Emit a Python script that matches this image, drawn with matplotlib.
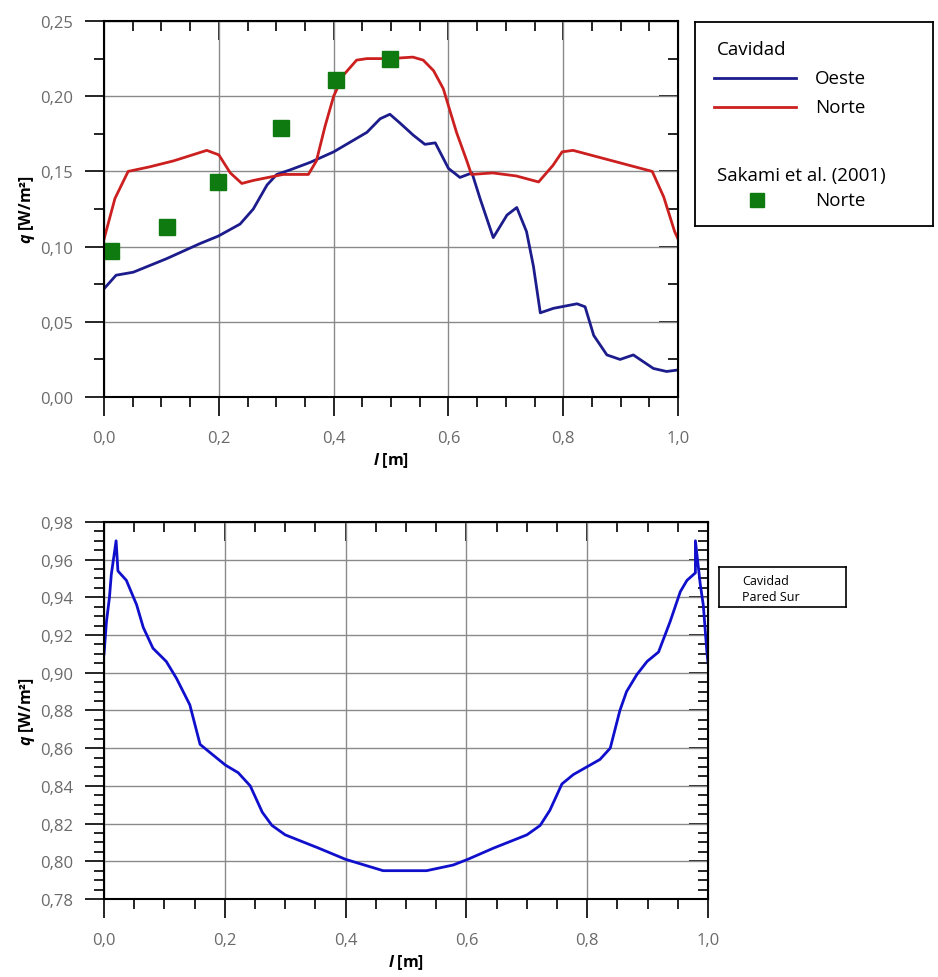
import matplotlib
matplotlib.use("Agg")
import matplotlib.pyplot as plt
from matplotlib.ticker import MultipleLocator, FuncFormatter
from matplotlib.lines import Line2D

plt.rcParams['font.family'] = ['Open Sans', 'DejaVu Sans']
plt.rcParams['mathtext.fontset'] = 'custom'
plt.rcParams['mathtext.it'] = 'Open Sans:italic:bold'
plt.rcParams['mathtext.rm'] = 'Open Sans:bold'

# Top chart: heat flux along the walls
oeste_x = [0, 0.021, 0.051, 0.109, 0.167, 0.199, 0.237, 0.26, 0.284, 0.301, 0.324, 0.359, 0.4,
           0.458, 0.481, 0.498, 0.516, 0.539, 0.559, 0.577, 0.600, 0.620, 0.641, 0.655, 0.678,
           0.702, 0.719, 0.736, 0.748, 0.760, 0.783, 0.824, 0.838, 0.853, 0.876, 0.899, 0.922,
           0.957, 0.980, 1.0]
oeste_y = [0.072, 0.081, 0.083, 0.092, 0.102, 0.107, 0.115, 0.125, 0.141, 0.148, 0.151, 0.156, 0.163,
           0.176, 0.185, 0.188, 0.182, 0.174, 0.168, 0.169, 0.152, 0.146, 0.149, 0.132, 0.106,
           0.121, 0.126, 0.110, 0.087, 0.056, 0.059, 0.062, 0.060, 0.041, 0.028, 0.025, 0.028,
           0.019, 0.017, 0.018]

norte_x = [0, 0.019, 0.042, 0.079, 0.121, 0.179, 0.2, 0.22, 0.24, 0.26, 0.312, 0.356, 0.37, 0.385,
           0.4, 0.417, 0.44, 0.458, 0.498, 0.538, 0.556, 0.574, 0.591, 0.614, 0.632, 0.64, 0.677,
           0.718, 0.757, 0.782, 0.798, 0.817, 0.886, 0.955, 0.975, 0.994, 1.0]
norte_y = [0.105, 0.132, 0.150, 0.153, 0.157, 0.164, 0.161, 0.149, 0.142, 0.144, 0.148, 0.148, 0.157,
           0.180, 0.200, 0.214, 0.224, 0.225, 0.225, 0.226, 0.224, 0.217, 0.205, 0.176, 0.157,
           0.148, 0.149, 0.147, 0.143, 0.154, 0.163, 0.164, 0.157, 0.150, 0.133, 0.110, 0.105]

sakami_x = [0.013, 0.109, 0.199, 0.308, 0.404, 0.498]
sakami_y = [0.097, 0.113, 0.143, 0.179, 0.211, 0.225]

# Bottom chart: south wall
sur_x = [0, 0.004, 0.009, 0.012, 0.020, 0.023, 0.037, 0.054, 0.065, 0.081, 0.103, 0.120, 0.142,
         0.159, 0.178, 0.201, 0.222, 0.242, 0.262, 0.278, 0.300, 0.355, 0.400, 0.462, 0.534,
         0.578, 0.602, 0.645, 0.700, 0.722, 0.738, 0.758, 0.777, 0.799, 0.821, 0.838, 0.854,
         0.865, 0.882, 0.899, 0.918, 0.937, 0.954, 0.965, 0.979, 0.979, 0.987, 0.992, 0.998, 1.0]
sur_y = [0.910, 0.927, 0.940, 0.952, 0.970, 0.954, 0.949, 0.936, 0.924, 0.913, 0.906, 0.897, 0.883,
         0.862, 0.857, 0.851, 0.847, 0.840, 0.826, 0.819, 0.814, 0.807, 0.801, 0.795, 0.795,
         0.798, 0.801, 0.807, 0.814, 0.819, 0.827, 0.841, 0.846, 0.850, 0.854, 0.860, 0.880,
         0.890, 0.899, 0.906, 0.911, 0.927, 0.943, 0.949, 0.953, 0.970, 0.947, 0.936, 0.911, 0.905]

BLUE_DARK = "#1c1c8c"
RED = "#cc2020"
GREEN = "#0f7a0f"
BLUE = "#1010cc"
TICK_GREY = "#6a6a6a"


def comma(fmt):
    return FuncFormatter(lambda v, p: (fmt % v).replace('.', ','))


def style_axes(ax, ymaj, ymin, yfmt):
    ax.set_xlim(0, 1)
    ax.xaxis.set_major_locator(MultipleLocator(0.2))
    ax.xaxis.set_minor_locator(MultipleLocator(0.05))
    ax.yaxis.set_major_locator(MultipleLocator(ymaj))
    ax.yaxis.set_minor_locator(MultipleLocator(ymin))
    ax.xaxis.set_major_formatter(comma("%.1f"))
    ax.yaxis.set_major_formatter(comma(yfmt))
    ax.grid(True, which='major', color="#8a8a8a", linewidth=1.0)
    ax.set_axisbelow(True)
    for s in ax.spines.values():
        s.set_linewidth(1.5)
    ax.tick_params(which='major', direction='out', length=13.5, width=1.2,
                   labelsize=12, labelcolor=TICK_GREY)
    ax.tick_params(which='minor', direction='out', length=7.5, width=1.2)
    ax.tick_params(axis='x', which='major', pad=10)
    ax.tick_params(axis='y', which='major', pad=9)
    # top and right ticks point inwards
    top = ax.secondary_xaxis('top')
    top.xaxis.set_major_locator(MultipleLocator(0.2))
    top.xaxis.set_minor_locator(MultipleLocator(0.05))
    top.tick_params(which='major', direction='in', length=13.5, width=1.2, labeltop=False)
    top.tick_params(which='minor', direction='in', length=7.5, width=1.2)
    right = ax.secondary_yaxis('right')
    right.yaxis.set_major_locator(MultipleLocator(ymaj))
    right.yaxis.set_minor_locator(MultipleLocator(ymin))
    right.tick_params(which='major', direction='in', length=13.5, width=1.2, labelright=False)
    right.tick_params(which='minor', direction='in', length=7.5, width=1.2)
    ax.set_xlabel(r"$l$ [m]", fontsize=11.5, fontweight='bold', labelpad=3)
    ax.set_ylabel(r"$q$ [W/m²]", fontsize=11.5, fontweight='bold', labelpad=2)


fig = plt.figure(figsize=(9.38, 9.78), dpi=100)

ax1 = fig.add_axes([0.1109, 0.593, 0.612, 0.3845])
ax1.plot(oeste_x, oeste_y, color=BLUE_DARK, linewidth=2.0)
ax1.plot(norte_x, norte_y, color=RED, linewidth=2.0)
ax1.plot(sakami_x, sakami_y, linestyle='none', marker='s', markersize=11, color=GREEN)
ax1.set_ylim(0, 0.25)
style_axes(ax1, 0.05, 0.025, "%.2f")

ax2 = fig.add_axes([0.1109, 0.0798, 0.644, 0.3855])
ax2.plot(sur_x, sur_y, color=BLUE, linewidth=2.0)
ax2.set_ylim(0.78, 0.98)
style_axes(ax2, 0.02, 0.005, "%.2f")

# legend box for the top chart
lg = fig.add_axes([0.741, 0.7679, 0.2536, 0.2086])
lg.set_xlim(0, 1)
lg.set_ylim(0, 1)
lg.set_xticks([])
lg.set_yticks([])
for s in lg.spines.values():
    s.set_linewidth(1.3)
lg.text(0.092, 0.868, "Cavidad", fontsize=13.5, va='center', ha='left')
lg.add_line(Line2D([0.08, 0.424], [0.725, 0.725], color=BLUE_DARK, linewidth=2.0))
lg.text(0.504, 0.725, "Oeste", fontsize=13.5, va='center', ha='left')
lg.add_line(Line2D([0.08, 0.424], [0.583, 0.583], color=RED, linewidth=2.0))
lg.text(0.504, 0.583, "Norte", fontsize=13.5, va='center', ha='left')
lg.text(0.092, 0.25, "Sakami et al. (2001)", fontsize=13.5, va='center', ha='left')
lg.add_line(Line2D([0.26], [0.127], linestyle='none', marker='s', markersize=10, color=GREEN))
lg.text(0.504, 0.127, "Norte", fontsize=13.5, va='center', ha='left')

# legend box for the bottom chart
lg2 = fig.add_axes([719 / 938, 1 - 608 / 978, 127 / 938, 40 / 978])
lg2.set_xticks([])
lg2.set_yticks([])
for s in lg2.spines.values():
    s.set_linewidth(1.2)
lg2.text(0.18, 0.66, "Cavidad", fontsize=9, va='center', ha='left', transform=lg2.transAxes)
lg2.text(0.18, 0.27, "Pared Sur", fontsize=9, va='center', ha='left', transform=lg2.transAxes)

fig.savefig("out.png", dpi=100)
